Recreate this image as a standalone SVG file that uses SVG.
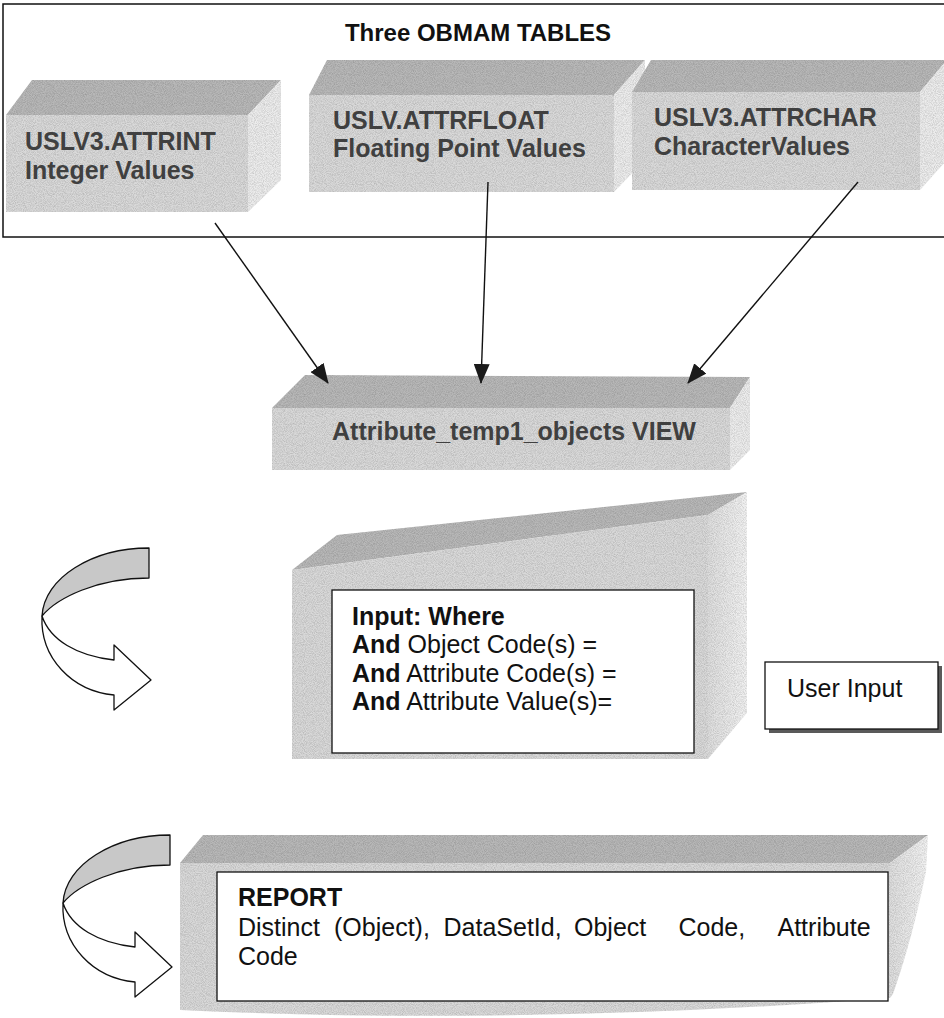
<svg xmlns="http://www.w3.org/2000/svg" width="944" height="1018" viewBox="0 0 944 1018">
  <style>
    .top { fill: #b8b8b8; }
    .front { fill: #d9d9d9; }
    .side { fill: #ececec; }
    .lbl { font-family: "Liberation Sans", Arial, sans-serif; font-weight: bold; font-size: 25px; fill: #404040; }
    .title { font-family: "Liberation Sans", Arial, sans-serif; font-weight: bold; font-size: 24px; fill: #111; }
    .body { font-family: "Liberation Sans", Arial, sans-serif; font-size: 25px; fill: #111; }
    .b { font-weight: bold; }
    .frame { fill: none; stroke: #111; stroke-width: 1.5; }
    .box { fill: #fff; stroke: #111; stroke-width: 1.3; }
    .conn { fill: none; stroke: #111; stroke-width: 1.4; }
    .turn { stroke: #111; stroke-width: 1.3; stroke-linejoin: round; }
  </style>
  <defs>
    <!-- fine speckle for the shaded solid faces -->
    <filter id="grain" x="0" y="0" width="100%" height="100%" color-interpolation-filters="sRGB">
      <feTurbulence type="fractalNoise" baseFrequency="1.1" numOctaves="1" seed="7" result="noise"/>
      <feColorMatrix in="noise" type="matrix" values="0 0 0 0 0  0 0 0 0 0  0 0 0 0 0  0.35 0 0 0 -0.13" result="specks"/>
      <feComposite in="specks" in2="SourceAlpha" operator="in" result="clipped"/>
      <feMerge>
        <feMergeNode in="SourceGraphic"/>
        <feMergeNode in="clipped"/>
      </feMerge>
    </filter>
    <linearGradient id="sideFade" x1="0" y1="0" x2="1" y2="0">
      <stop offset="0" stop-color="#dedede"/>
      <stop offset="1" stop-color="#f2f2f2"/>
    </linearGradient>
    <marker id="arrow" markerUnits="userSpaceOnUse" viewBox="0 0 20 16" markerWidth="20" markerHeight="16" refX="19" refY="8" orient="auto">
      <path d="M0,0 L20,8 L0,16 Z" fill="#1a1a1a"/>
    </marker>
    <!-- curved U-turn arrow, local origin at left pinch x / top y -->
    <g id="uturn">
      <path class="turn" fill="#c8c8c8" d="M107,0 C50,0 2,30 0,68 C15,50 55,30 107,30 Z"/>
      <path class="turn" fill="#fff" d="M0,68 C-2,110 30,143 72,147 L72,162 L109,132 L72,97 L72,112 C35,108 8,92 0,68 Z"/>
    </g>
  </defs>

  <rect width="944" height="1018" fill="#fff"/>

  <!-- enclosing frame for the three tables -->
  <g id="obmam-tables">
    <rect class="frame" x="3" y="4" width="1000" height="233"/>
    <text class="title" x="478" y="41" text-anchor="middle">Three OBMAM TABLES</text>
  </g>

  <g id="node-attrint">
    <g filter="url(#grain)">
      <polygon class="top" points="6,115 248,115 281,80 32,80"/>
      <rect class="front" x="6" y="115" width="242" height="97"/>
      <polygon class="side" points="248,115 281,80 281,180 248,212"/>
    </g>
    <text class="lbl" x="25" y="150">USLV3.ATTRINT</text>
    <text class="lbl" x="25" y="179">Integer Values</text>
  </g>

  <g id="node-attrfloat">
    <g filter="url(#grain)">
      <polygon class="top" points="309,95 614,95 645,60 327,60"/>
      <rect class="front" x="309" y="95" width="305" height="97"/>
      <polygon class="side" points="614,95 645,60 645,160 614,192"/>
    </g>
    <text class="lbl" x="333" y="129">USLV.ATTRFLOAT</text>
    <text class="lbl" x="333" y="157">Floating Point Values</text>
  </g>

  <g id="node-attrchar">
    <g filter="url(#grain)">
      <polygon class="top" points="632,92 920,92 947,60 651,60"/>
      <rect class="front" x="632" y="92" width="288" height="98"/>
      <polygon class="side" points="920,92 947,60 947,160 920,190"/>
    </g>
    <text class="lbl" x="654" y="126">USLV3.ATTRCHAR</text>
    <text class="lbl" x="654" y="155">CharacterValues</text>
  </g>

  <g id="node-view">
    <g filter="url(#grain)">
      <polygon class="top" points="272,408 730,408 750,377 305,375"/>
      <rect class="front" x="272" y="408" width="458" height="62"/>
      <polygon class="side" points="730,408 750,377 750,450 730,470"/>
    </g>
    <text class="lbl" x="332" y="440" font-size="24">Attribute_temp1_objects VIEW</text>
  </g>

  <g id="connectors">
    <line class="conn" x1="215" y1="223" x2="328" y2="383" marker-end="url(#arrow)"/>
    <line class="conn" x1="488" y1="182" x2="481" y2="383" marker-end="url(#arrow)"/>
    <line class="conn" x1="858" y1="182" x2="688" y2="383" marker-end="url(#arrow)"/>
  </g>

  <g id="turn-input">
    <use href="#uturn" x="42" y="548"/>
  </g>

  <g id="node-input">
    <g filter="url(#grain)">
      <polygon class="top" points="292,570 337,535 747,492 708,515"/>
      <polygon class="front" points="292,570 708,515 708,759 292,759"/>
      <polygon fill="url(#sideFade)" points="708,515 747,492 747,713 708,759"/>
    </g>
    <rect class="box" x="332" y="590" width="362" height="163"/>
    <text class="body" x="352" y="625"><tspan class="b">Input: Where</tspan></text>
    <text class="body" x="352" y="653"><tspan class="b">And</tspan> Object Code(s) =</text>
    <text class="body" x="352" y="682"><tspan class="b">And</tspan> Attribute Code(s) =</text>
    <text class="body" x="352" y="710"><tspan class="b">And</tspan> Attribute Value(s)=</text>
  </g>

  <g id="node-user-input">
    <rect x="769" y="666" width="173" height="67" fill="#5a5a5a"/>
    <rect class="box" x="765" y="662" width="173" height="67"/>
    <text class="body" x="787" y="697">User Input</text>
  </g>

  <g id="turn-report">
    <use href="#uturn" x="63" y="835"/>
  </g>

  <g id="node-report">
    <g filter="url(#grain)">
      <polygon class="top" points="180,863 203,835 928,835 890,863"/>
      <path class="front" d="M180,863 L890,863 L890,998 Q520,1026 180,1010 Z"/>
      <path fill="url(#sideFade)" d="M890,863 L928,835 L926,872 Q912,940 893,994 L890,998 Z"/>
    </g>
    <rect class="box" x="217" y="872" width="671" height="129"/>
    <text class="body" font-size="24" x="238" y="906"><tspan class="b">REPORT</tspan></text>
    <text class="body" font-size="24" y="936"><tspan x="238">Distinct</tspan><tspan x="334">(Object),</tspan><tspan x="443.5">DataSetId,</tspan><tspan x="574">Object</tspan><tspan x="678.5">Code,</tspan><tspan x="777.5">Attribute</tspan></text>
    <text class="body" font-size="24" x="238" y="965">Code</text>
  </g>
</svg>
